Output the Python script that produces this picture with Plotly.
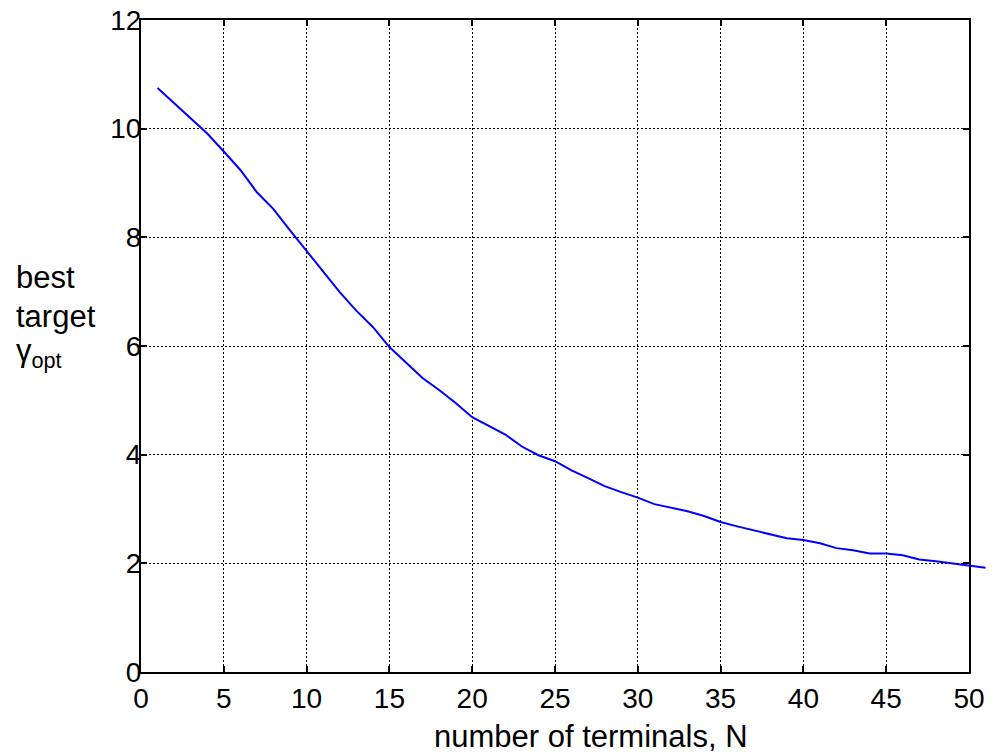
import plotly.graph_objects as go

# Data
N = list(range(1, 52))
gamma_opt = [10.75, 10.47, 10.19, 9.91, 9.58, 9.24, 8.83, 8.52, 8.13, 7.75,
             7.39, 6.99, 6.65, 6.35, 5.98, 5.69, 5.41, 5.19, 4.95, 4.69,
             4.53, 4.37, 4.15, 3.99, 3.88, 3.71, 3.57, 3.42, 3.31, 3.21,
             3.09, 3.02, 2.96, 2.87, 2.76, 2.68, 2.61, 2.54, 2.46, 2.43,
             2.37, 2.28, 2.24, 2.18, 2.18, 2.15, 2.07, 2.04, 2.00, 1.97,
             1.92]
x_ticks = [0, 5, 10, 15, 20, 25, 30, 35, 40, 45, 50]
y_ticks = [0, 2, 4, 6, 8, 10, 12]

# page body has an 8px margin: figure drawn at offset (8, 8)
OFF = 8
W, H = 995 - OFF, 754 - OFF
L, R, T, B = 141 - OFF, 0, 20 - OFF, 754 - 672
plot_w = W - L - R
plot_h = H - T - B
axis_px = 969 - 141
dom = axis_px / plot_w
x_max = 50
y_max = 12

FONT = "Liberation Sans, Arial, sans-serif"

fig = go.Figure()
# empty trace so that the framed x/y subplot (grid, box, ticks) is created
fig.add_trace(go.Scatter(x=[], y=[], mode="lines", xaxis="x", yaxis="y",
                         showlegend=False, hoverinfo="skip"))
fig.add_trace(go.Scatter(
    x=N, y=gamma_opt, mode="lines",
    line=dict(color="#0000ff", width=2),
    xaxis="x2", yaxis="y2", showlegend=False, hoverinfo="x+y",
))

axis_common = dict(
    showline=True, linecolor="black", linewidth=2, mirror="ticks",
    ticks="inside", ticklen=6, tickwidth=1.5, tickcolor="black",
    showgrid=True, gridcolor="black", gridwidth=1, griddash="2px,2px",
    zeroline=False, tickfont=dict(family=FONT, size=28, color="black"),
    automargin=False, ticklabeloverflow="allow",
)

fig.update_layout(
    width=W, height=H,
    margin=dict(l=L, r=R, t=T, b=B, pad=0, autoexpand=False),
    paper_bgcolor="white", plot_bgcolor="rgba(0,0,0,0)",
    xaxis=dict(domain=[0, dom], range=[0, x_max], tickvals=x_ticks,
               anchor="y", **axis_common),
    yaxis=dict(domain=[0, 1], range=[0, y_max], tickvals=y_ticks,
               anchor="x", ticklabelstandoff=-8, **axis_common),
    xaxis2=dict(domain=[0, 1], range=[0, x_max / dom], visible=False,
                anchor="y2", automargin=False),
    yaxis2=dict(domain=[0, 1], range=[0, y_max], visible=False,
                anchor="x2", automargin=False),
    showlegend=False,
)

lab_font = dict(family=FONT, size=31, color="black")
fig.add_annotation(text="number of terminals, N", xref="paper", yref="paper",
                   x=(591 - 141) / plot_w, y=0, yshift=-(736 - 672),
                   xanchor="center", yanchor="middle", showarrow=False,
                   font=lab_font)
for txt, py in [("best", 277), ("target", 316), ("γ<sub>opt</sub>", 353)]:
    fig.add_annotation(text=txt, xref="paper", yref="paper",
                       x=0, xshift=-(141 - 14), y=1 - (py - 20) / plot_h,
                       xanchor="left", yanchor="middle", showarrow=False,
                       font=lab_font)

fig.write_html("out.html")
